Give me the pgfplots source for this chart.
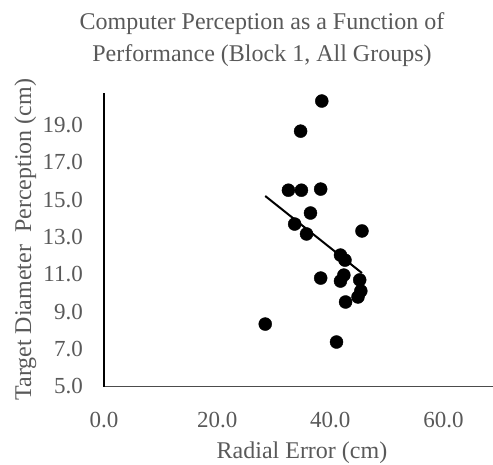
\documentclass[border=0pt]{standalone}
\usepackage{pgfplots}
\pgfplotsset{compat=1.18}
\usepackage{fontspec}
\setmainfont{Liberation Serif}
\definecolor{txtgray}{HTML}{595959}

\begin{document}
\begin{tikzpicture}[x=1pt,y=1pt]
\useasboundingbox (0,0) rectangle (493,464);
\clip (0,0) rectangle (493,464);
\begin{axis}[
  at={(104pt,77.5pt)}, anchor=south west,
  scale only axis, width=396pt, height=293.5pt,
  xmin=0, xmax=70, ymin=5, ymax=20.7,
  axis lines=left,
  x axis line style={-, draw=black!70, line width=1.5pt},
  y axis line style={-, draw=black, line width=1.2pt},
  xtick={0,20,40,60},
  ytick={5,7,...,19},
  tick style={draw=none},
  major tick length=0pt,
  /pgf/number format/.cd, fixed, fixed zerofill, precision=1, assume math mode=true,
  /pgfplots/.cd,
  ticklabel style={font=\fontsize{23}{27}\selectfont, text=txtgray, inner sep=0pt},
  xticklabel style={anchor=north, yshift=-25.5pt},
  yticklabel style={anchor=east, xshift=-21pt},
  xlabel={Radial Error (cm)},
  ylabel={Target Diameter\ \ Perception (cm)},
  label style={font=\fontsize{24}{28}\selectfont, text=txtgray},
  xlabel style={at={(axis description cs:0.5,-0.2436)}, anchor=base},
  ylabel style={at={(axis description cs:-0.1843,0.5)}, anchor=base},
  clip=false,
]
% linear trend over the observed range
\addplot[black, line width=2pt] coordinates {(28.5,15.19) (45.6,11.07)};
% one point per participant
\addplot[only marks, mark=*, mark size=6.5pt, black] coordinates {
  (38.5,20.27) (34.75,18.66) (32.6,15.50) (34.9,15.50) (38.3,15.56)
  (36.5,14.28) (33.7,13.69) (35.8,13.16) (45.6,13.32) (41.8,12.03)
  (42.6,11.76) (38.3,10.80) (41.8,10.64) (42.4,10.96) (45.2,10.70)
  (44.9,9.79) (45.4,10.11) (42.7,9.52) (28.5,8.34) (41.1,7.38)
};
\end{axis}
\node[anchor=base, font=\fontsize{24}{28}\selectfont, text=txtgray] at (262,434) {Computer Perception as a Function of};
\node[anchor=base, font=\fontsize{24}{28}\selectfont, text=txtgray] at (262,402) {Performance (Block 1, All Groups)};
\end{tikzpicture}
\end{document}
